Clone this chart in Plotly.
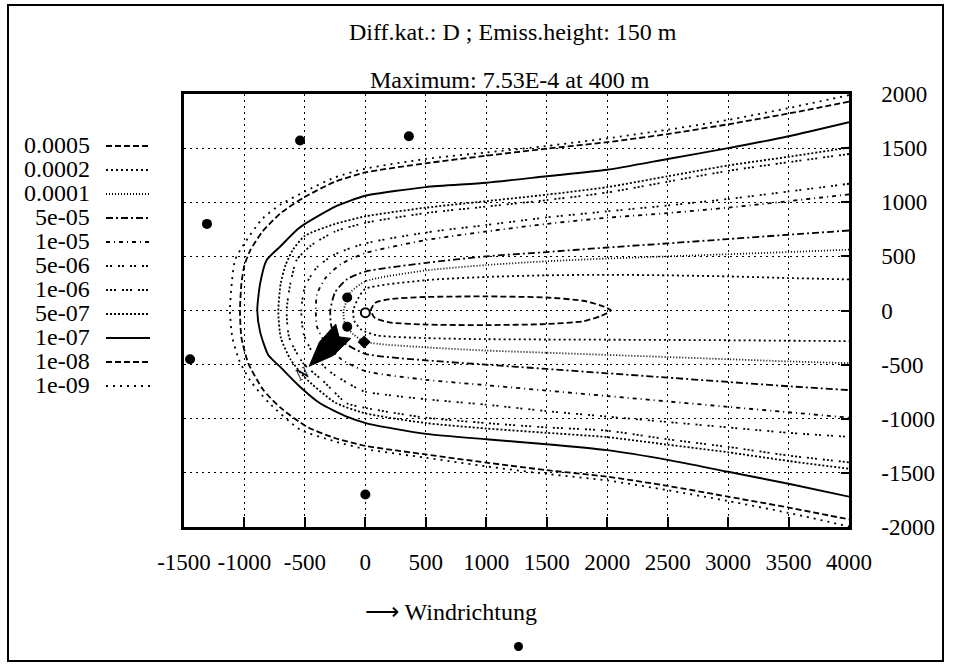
import plotly.graph_objects as go

# ---------------- data ----------------
LEVELS = ["0.0005", "0.0002", "0.0001", "5e-05", "1e-05", "5e-06",
          "1e-06", "5e-07", "1e-07", "1e-08", "1e-09"]

X_TICKS = [-1500, -1000, -500, 0, 500, 1000, 1500, 2000, 2500, 3000, 3500, 4000]
Y_TICKS = [-2000, -1500, -1000, -500, 0, 500, 1000, 1500, 2000]

# contour lines: upper branch right->left, then lower branch left->right
C_1e09_X = [4000, 3500, 3000, 2500, 2000, 1500, 1000, 500, 0, -250, -500, -700, -850, -1000, -1078, -1105, -1120,
            -1100, -1040, -950, -800, -540, -250, 0, 500, 1000, 1500, 2000, 2500, 3000, 3500, 4000]
C_1e09_Y = [1990, 1870, 1760, 1670, 1590, 1520, 1460, 1400, 1310, 1230, 1100, 980, 850, 620, 466, 250, 0,
            -250, -470, -650, -850, -1100, -1210, -1280, -1360, -1440, -1510, -1570, -1660, -1760, -1870, -1995]

C_1e08_X = [4000, 3500, 3000, 2500, 2000, 1500, 1000, 500, 0, -250, -500, -700, -850, -950, -1000, -1025, -1037,
            -1025, -968, -844, -700, -485, -250, 0, 500, 1000, 1500, 2000, 2500, 3000, 3500, 4000]
C_1e08_Y = [1930, 1820, 1720, 1630, 1555, 1495, 1430, 1360, 1275, 1190, 1050, 900, 730, 560, 420, 250, 0,
            -250, -488, -734, -900, -1073, -1180, -1250, -1330, -1405, -1475, -1535, -1620, -1720, -1820, -1930]

C_1e07_X = [4000, 3500, 3000, 2500, 2000, 1500, 1000, 500, 0, -250, -500, -568, -706, -816, -870, -894,
            -870, -803, -706, -541, -375, -154, 11, 500, 1000, 1500, 2000, 2500, 3000, 3500, 4000]
C_1e07_Y = [1740, 1610, 1500, 1400, 1300, 1240, 1180, 1140, 1060, 960, 800, 744, 589, 466, 250, 0,
            -200, -411, -519, -704, -857, -981, -1042, -1140, -1190, -1235, -1290, -1380, -1490, -1600, -1720]

C_5e07_X = [4000, 3500, 3000, 2500, 2000, 1500, 1000, 500, 0, -250, -500, -600, -660, -700, -720,
            -700, -620, -500, -250, 0, 500, 1000, 1500, 2000, 2500, 3000, 3500, 4000]
C_5e07_Y = [1505, 1420, 1340, 1240, 1140, 1070, 1010, 950, 870, 800, 690, 560, 420, 250, 0,
            -250, -450, -620, -850, -950, -1040, -1090, -1130, -1170, -1240, -1310, -1390, -1462]

C_1e06_X = [4000, 3500, 3000, 2500, 2000, 1500, 1000, 500, 0, -250, -450, -568, -620, -651,
            -630, -514, -350, -154, 0, 500, 1000, 1500, 2000, 2500, 3000, 3500, 4000]
C_1e06_Y = [1446, 1370, 1290, 1190, 1090, 1020, 960, 900, 810, 730, 600, 466, 250, 0,
            -250, -488, -650, -857, -900, -990, -1040, -1080, -1110, -1190, -1260, -1340, -1403]

C_5e06_X = [4000, 3500, 3000, 2500, 2000, 1500, 1000, 500, 0, -250, -400, -500, -530,
            -510, -420, -300, -100, 0, 500, 1000, 1500, 2000, 2500, 3000, 3500, 4000]
C_5e06_Y = [1171, 1100, 1030, 970, 916, 860, 790, 720, 620, 520, 400, 220, 0,
            -220, -420, -560, -700, -750, -820, -870, -930, -980, -1030, -1080, -1130, -1167]

C_1e05_X = [4000, 3500, 3000, 2500, 2000, 1500, 1000, 500, 0, -200, -330, -400, -410,
            -400, -330, -200, 0, 500, 1000, 1500, 2000, 2500, 3000, 3500, 4000]
C_1e05_Y = [1073, 1010, 950, 900, 857, 800, 730, 650, 530, 430, 300, 150, 0,
            -150, -300, -450, -560, -640, -690, -740, -790, -840, -890, -940, -990]

C_5e05_X = [4000, 3500, 3000, 2500, 2000, 1500, 1000, 500, 0, -150, -250, -290,
            -280, -200, 0, 500, 1000, 1500, 2000, 2500, 3000, 3500, 4000]
C_5e05_Y = [739, 700, 660, 620, 582, 540, 500, 440, 360, 290, 170, 0,
            -150, -280, -400, -460, -500, -540, -580, -620, -660, -700, -735]

C_1e04_X = [4000, 3500, 3000, 2500, 2000, 1500, 1000, 500, 0, -120, -180,
            -170, -100, 0, 500, 1000, 1500, 2000, 2500, 3000, 3500, 4000]
C_1e04_Y = [562, 540, 520, 500, 480, 455, 420, 370, 270, 170, 0,
            -120, -220, -290, -340, -370, -390, -410, -430, -450, -470, -487]

C_2e04_X = [4000, 3500, 3000, 2500, 2000, 1500, 1000, 500, 0, -60, -100,
            -90, -30, 100, 500, 1000, 1500, 2000, 2500, 3000, 3500, 4000]
C_2e04_Y = [287, 300, 315, 325, 330, 325, 310, 280, 200, 110, 0,
            -100, -180, -230, -255, -265, -268, -270, -272, -275, -279, -283]

C_5e04_X = [45, 80, 200, 500, 1000, 1500, 1800, 1950, 2030, 1950, 1800, 1500, 1000, 500, 200, 80, 45]
C_5e04_Y = [0, 70, 105, 125, 130, 120, 90, 45, 0, -50, -100, -125, -135, -130, -110, -70, 0]

SITE_X = [-540, 360, -1310, -1450, 0, -150, -150]
SITE_Y = [1570, 1610, 800, -450, -1700, 120, -150]
SITE2_X = [-10]
SITE2_Y = [-290]
SOURCE_X = [0]
SOURCE_Y = [-20]

WIND_ARROW_X = [-465, -380, -245, -218, -120, -265, -465]
WIND_ARROW_Y = [-515, -292, -125, -243, -258, -416, -515]

TITLE1 = "Diff.kat.: D ; Emiss.height: 150 m"
TITLE2 = "Maximum: 7.53E-4 at 400 m"
WIND_LABEL = "\u27f6 Windrichtung"

# ---------------- style ----------------
W, H = 953, 666
L, R, T, B = 184, 104, 94, 139
FONT = "Liberation Serif, Times New Roman, serif"
FS_TICK = 23
FS_TITLE = 24
FS_LEG = 24

DASHES = {
    "0.0005": "6px,3px",
    "0.0002": "2px,3px",
    "0.0001": "1px,2px",
    "5e-05": "7px,3px,2px,3px",
    "1e-05": "4px,4px,1px,4px",
    "5e-06": "2px,2px,2px,6px",
    "1e-06": "2px,2px,2px,2px,2px,6px",
    "5e-07": "2px,2px",
    "1e-07": "solid",
    "1e-08": "6px,3px",
    "1e-09": "2px,5px",
}

CONTOURS = [
    ("1e-09", C_1e09_X, C_1e09_Y),
    ("1e-08", C_1e08_X, C_1e08_Y),
    ("1e-07", C_1e07_X, C_1e07_Y),
    ("5e-07", C_5e07_X, C_5e07_Y),
    ("1e-06", C_1e06_X, C_1e06_Y),
    ("5e-06", C_5e06_X, C_5e06_Y),
    ("1e-05", C_1e05_X, C_1e05_Y),
    ("5e-05", C_5e05_X, C_5e05_Y),
    ("0.0001", C_1e04_X, C_1e04_Y),
    ("0.0002", C_2e04_X, C_2e04_Y),
    ("0.0005", C_5e04_X, C_5e04_Y),
]

PW = W - L - R
PH = H - T - B


def px(x):
    return (x - L) / PW


def py(y):
    return 1 - (y - T) / PH


fig = go.Figure()

for lev, xs, ys in CONTOURS:
    fig.add_trace(go.Scatter(
        x=xs, y=ys, mode="lines",
        line=dict(color="black", width=1.9 if lev == "1e-07" else 1.8,
                  dash=DASHES[lev], shape="spline", smoothing=0.6),
        showlegend=False, hoverinfo="skip"))

fig.add_trace(go.Scatter(x=WIND_ARROW_X, y=WIND_ARROW_Y, mode="lines", fill="toself",
                         fillcolor="black", line=dict(color="black", width=1),
                         showlegend=False, hoverinfo="skip"))

fig.add_trace(go.Scatter(x=SITE_X, y=SITE_Y, mode="markers",
                         marker=dict(color="black", size=10),
                         showlegend=False, cliponaxis=False))
fig.add_trace(go.Scatter(x=SITE2_X, y=SITE2_Y, mode="markers",
                         marker=dict(color="black", size=10, symbol="diamond"),
                         showlegend=False))
fig.add_trace(go.Scatter(x=SOURCE_X, y=SOURCE_Y, mode="markers",
                         marker=dict(color="white", size=9, line=dict(color="black", width=2)),
                         showlegend=False))

annotations = [
    dict(text=TITLE1, x=px(513), y=py(32), xref="paper", yref="paper",
         xanchor="center", yanchor="middle",
         showarrow=False, font=dict(size=FS_TITLE, family=FONT, color="black")),
    dict(text=TITLE2, x=px(510), y=py(80), xref="paper", yref="paper",
         xanchor="center", yanchor="middle",
         showarrow=False, font=dict(size=FS_TITLE, family=FONT, color="black")),
    dict(text=WIND_LABEL, x=px(451), y=py(612), xref="paper", yref="paper",
         xanchor="center", yanchor="middle",
         showarrow=False, font=dict(size=FS_TITLE, family=FONT, color="black")),
    dict(text="N", x=-520, y=-580, xref="x", yref="y", showarrow=False, textangle=-25,
         font=dict(size=17, family=FONT, color="black")),
]

shapes = [
    dict(type="rect", xref="paper", yref="paper", x0=px(8), x1=px(943), y0=py(661), y1=py(5),
         line=dict(color="black", width=2)),
    dict(type="circle", xref="paper", yref="paper", x0=px(514), x1=px(523), y0=py(651), y1=py(642),
         fillcolor="black", line=dict(color="black", width=0)),
]

# manual legend on the left
row0, step = 145, 24.0
for i, lev in enumerate(LEVELS):
    yy = row0 + i * step
    annotations.append(dict(text=lev, x=px(92), y=py(yy), xref="paper", yref="paper",
                            xanchor="right", yanchor="middle", showarrow=False,
                            font=dict(size=FS_LEG, family=FONT, color="black")))
    shapes.append(dict(type="line", xref="paper", yref="paper", x0=px(106), x1=px(150),
                       y0=py(yy + 1), y1=py(yy + 1),
                       line=dict(color="black", width=1.8, dash=DASHES[lev])))

fig.update_layout(
    width=W, height=H,
    margin=dict(l=L, r=R, t=T, b=B),
    paper_bgcolor="white", plot_bgcolor="white",
    font=dict(family=FONT, size=FS_TICK, color="black"),
    annotations=annotations, shapes=shapes,
    showlegend=False,
)

fig.update_xaxes(range=[-1500, 4000], tickvals=X_TICKS, ticktext=[str(v) for v in X_TICKS],
                 tickangle=0, showgrid=True, gridcolor="black", gridwidth=1, griddash="2px,4px",
                 zeroline=False, showline=True, linecolor="black", linewidth=2.5, mirror=True,
                 ticks="inside", ticklen=10, tickcolor="black", tickwidth=2,
                 ticklabelstandoff=13, tickfont=dict(size=FS_TICK, family=FONT))
fig.update_yaxes(range=[-2000, 2000], tickvals=Y_TICKS, ticktext=[str(v) for v in Y_TICKS],
                 side="right", showgrid=True, gridcolor="black", gridwidth=1, griddash="2px,4px",
                 zeroline=False, showline=True, linecolor="black", linewidth=2.5, mirror=True,
                 ticks="inside", ticklen=8, tickcolor="black", tickwidth=2,
                 ticklabelstandoff=25, tickfont=dict(size=FS_TICK, family=FONT))

fig.write_html("out.html")
